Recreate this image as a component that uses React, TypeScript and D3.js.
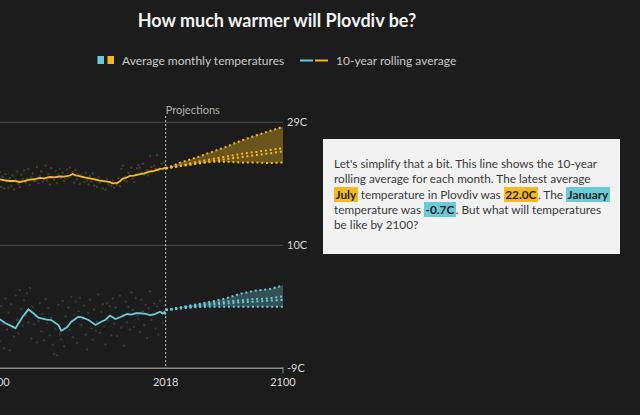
import React from 'react';
import * as d3 from 'd3';

// 10-year rolling averages
const julyYears = [1898, 1902, 1905, 1909, 1912, 1916, 1919, 1923, 1926, 1930, 1933, 1937, 1940, 1944, 1947, 1951, 1953, 1955, 1957, 1959, 1962, 1965, 1969, 1972, 1976, 1979, 1981, 1984, 1986, 1988, 1990, 1993, 1996, 2000, 2003, 2007, 2010, 2014, 2016, 2018];
const julyRolling = [20.3, 20.2, 20.05, 19.93, 19.95, 19.78, 19.9, 20.16, 20.2, 20.4, 20.35, 20.55, 20.5, 20.63, 20.6, 20.78, 21.01, 20.8, 20.71, 20.6, 20.47, 20.35, 20.16, 20.0, 19.86, 19.75, 19.58, 19.62, 19.9, 20.32, 20.4, 20.71, 20.75, 21.01, 21.1, 21.4, 21.5, 21.79, 21.85, 22.0];

const janYears = [1898, 1902, 1906, 1911, 1913, 1918, 1922, 1925, 1929, 1934, 1938, 1943, 1945, 1949, 1952, 1957, 1960, 1964, 1969, 1973, 1976, 1979, 1983, 1986, 1991, 1994, 1997, 2000, 2004, 2007, 2010, 2014, 2016, 2017, 2018];
const janRolling = [-1.1, -1.43, -2.05, -2.57, -2.82, -1.03, 0.11, -0.41, -1.18, -1.43, -1.54, -2.31, -3.19, -2.67, -1.8, -1.03, -1.18, -1.54, -2.31, -1.8, -1.5, -0.87, -1.38, -1.12, -0.61, -0.7, -0.5, -0.5, -0.6, -0.77, -0.66, -0.26, -0.55, -0.3, -0.7];

// Projections 2018-2100
const projYears = [2018, 2030, 2040, 2050, 2060, 2070, 2080, 2090, 2100];
const julyHigh = [21.9, 22.9, 23.6, 24.4, 25.2, 26.1, 26.9, 27.6, 28.3];
const julyMid1 = [21.9, 22.4, 22.9, 23.3, 23.7, 24.1, 24.4, 24.7, 25.0];
const julyMid2 = [21.9, 22.3, 22.7, 23.0, 23.3, 23.6, 23.9, 24.2, 24.5];
const julyLow = [21.9, 22.3, 22.6, 22.9, 22.9, 22.8, 22.8, 22.7, 22.8];
const janHigh = [0.0, 0.5, 0.9, 1.3, 1.8, 2.5, 3.0, 3.2, 3.8];
const janMid1 = [0.0, 0.4, 0.7, 1.0, 1.3, 1.5, 1.7, 1.8, 2.1];
const janMid2 = [0.0, 0.35, 0.6, 0.85, 1.0, 1.2, 1.3, 1.45, 1.55];
const janLow = [0.0, 0.3, 0.45, 0.52, 0.5, 0.5, 0.5, 0.5, 0.5];

// Average monthly temperatures, 1900-2018
const monthlyStartYear = 1900;
const julyMonthly = [
  20.9, 19.4, 21.3, 19.0, 20.6, 18.8, 21.0, 19.9, 18.9, 20.4,
  19.2, 20.8, 18.6, 20.1, 21.4, 19.5, 19.0, 20.9, 20.2, 21.6,
  19.7, 20.3, 21.8, 19.3, 20.5, 21.1, 19.9, 20.0, 22.1, 19.6,
  20.7, 21.4, 19.8, 20.2, 22.3, 20.0, 21.0, 19.4, 21.9, 20.6,
  20.1, 21.5, 19.6, 20.9, 21.8, 20.4, 21.2, 19.9, 20.3, 21.7,
  20.5, 22.0, 20.8, 21.3, 19.7, 21.6, 20.2, 21.0, 19.5, 20.9,
  20.6, 19.8, 21.2, 20.0, 19.4, 20.7, 19.9, 21.1, 19.2, 20.3,
  19.0, 20.5, 19.7, 20.1, 18.8, 19.9, 18.6, 20.3, 19.4, 19.8,
  19.2, 20.0, 18.9, 19.6, 19.3, 20.4, 19.1, 21.8, 22.3, 20.0,
  20.6, 19.9, 21.2, 20.8, 22.0, 20.3, 19.8, 21.0, 21.9, 22.4,
  22.0, 21.2, 22.6, 20.9, 21.1, 21.6, 20.8, 23.8, 22.1, 21.4,
  22.3, 21.8, 23.9, 21.5, 21.9, 22.6, 21.7, 22.8, 22.3,
];
const janMonthly = [
  -3.5, 1.2, -4.8, 0.6, -2.1, -5.9, 1.8, -3.0, -0.4, -6.2,
  0.9, -2.7, -4.1, 2.3, -1.5, -3.6, 3.1, 0.2, -2.4, 1.5,
  -0.8, 2.6, -1.9, 3.4, -4.4, 0.5, -2.2, -0.9, -5.0, -1.7,
  1.1, -3.3, -0.6, -4.7, 1.7, -2.0, 0.3, -3.9, -1.2, -5.4,
  -6.8, -2.9, -7.0, 0.8, -3.7, -4.5, 1.4, -5.6, -1.0, -2.6,
  0.4, -3.1, 2.0, -4.2, -0.7, 1.3, -5.1, -0.2, 1.9, -2.3,
  -1.4, 0.7, -3.8, -6.1, -0.5, 1.6, -2.8, -4.6, 0.1, -3.2,
  -1.8, 2.4, -3.5, -0.3, 0.9, -2.5, -5.3, 1.0, -1.6, 0.6,
  -3.9, 1.8, -2.1, 0.4, -4.0, -1.1, 2.2, -2.7, -0.8, -5.5,
  1.3, -1.9, 0.5, -3.0, 2.7, 0.0, -2.6, 1.9, -0.9, -1.4,
  -3.4, 1.6, -0.2, -2.3, 0.8, -4.3, 0.3, 2.9, -1.5, -0.6,
  1.0, -2.9, 0.6, -3.8, 1.4, -0.4, -2.0, 0.7, -1.3,
];

const yTicks = [29, 10, -9];
const xTickLabels = [1900, 2018, 2100];
const projectionStart = 2018;

const YELLOW = '#f4b91f';
const BLUE = '#6ccad6';
const BG = '#1c1c1c';
const FONT = 'Lato, "Open Sans", sans-serif';

export default function App() {
  const x = d3.scaleLinear().domain([1900, 2100]).range([-3.1, 283]);
  const y = d3.scaleLinear().domain([-9, 29]).range([368.3, 122.3]);

  const line = d3
    .line<[number, number]>()
    .x((d) => x(d[0]))
    .y((d) => y(d[1]));
  const area = d3
    .area<[number, number, number]>()
    .x((d) => x(d[0]))
    .y0((d) => y(d[1]))
    .y1((d) => y(d[2]));

  const zip = (xs: number[], ys: number[]) => xs.map((v, i) => [v, ys[i]] as [number, number]);

  const fans = [
    { color: YELLOW, fill: 'rgba(244,185,31,0.36)', high: julyHigh, mids: [julyMid1, julyMid2], low: julyLow },
    { color: BLUE, fill: 'rgba(108,202,214,0.30)', high: janHigh, mids: [janMid1, janMid2], low: janLow },
  ];

  const gridTicks = yTicks.filter((t) => t !== -9);
  const hl = (c: string) => ({ background: c, padding: '0 1.5px', color: '#222' });

  return (
    <svg
      width={640}
      height={415}
      style={{ position: 'fixed', left: 0, top: 0, background: BG, fontFamily: FONT }}
    >
      <rect x={0} y={0} width={640} height={415} fill={BG} />
      <text x={277} y={27} textAnchor="middle" fill="#f2f2f2" fontSize={18} fontWeight={700}>
        How much warmer will Plovdiv be?
      </text>

      {/* legend */}
      <rect x={97.5} y={56} width={6.5} height={8} fill={BLUE} />
      <rect x={107.5} y={56} width={6.5} height={8} fill={YELLOW} />
      <text x={122} y={64.5} fill="#c9c9c9" fontSize={12}>Average monthly temperatures</text>
      <line x1={300} x2={313} y1={60.5} y2={60.5} stroke={BLUE} strokeWidth={2} />
      <line x1={315} x2={328} y1={60.5} y2={60.5} stroke={YELLOW} strokeWidth={2} />
      <text x={336} y={64.5} fill="#c9c9c9" fontSize={12}>10-year rolling average</text>

      {/* gridlines */}
      {gridTicks.map((t) => (
        <line key={t} x1={0} x2={x(2100)} y1={y(t)} y2={y(t)} stroke="#4b4b4b" strokeWidth={1} />
      ))}
      {yTicks.map((t) => (
        <text key={t} x={x(2100) + 4} y={y(t) + 4} fill="#d6d6d6" fontSize={11}>
          {t}C
        </text>
      ))}

      {/* scatter */}
      {julyMonthly.map((v, i) => (
        <circle key={'j' + i} cx={x(monthlyStartYear + i)} cy={y(v)} r={1.2} fill="#7d7045" opacity={0.4} />
      ))}
      {janMonthly.map((v, i) => (
        <circle key={'n' + i} cx={x(monthlyStartYear + i)} cy={y(v)} r={1.2} fill="#5c6a6c" opacity={0.4} />
      ))}

      {/* projection fans */}
      {fans.map((f, k) => (
        <g key={k}>
          <path d={area(projYears.map((yr, i) => [yr, f.low[i], f.high[i]] as [number, number, number])) || ''} fill={f.fill} />
          {[f.high, ...f.mids, f.low].map((s, j) => (
            <path
              key={j}
              d={line(zip(projYears, s)) || ''}
              fill="none"
              stroke={f.color}
              strokeWidth={2}
              strokeDasharray="2 2.8"
            />
          ))}
        </g>
      ))}

      {/* rolling average lines */}
      <path d={line(zip(julyYears, julyRolling)) || ''} fill="none" stroke={YELLOW} strokeWidth={1.8} />
      <path d={line(zip(janYears, janRolling)) || ''} fill="none" stroke={BLUE} strokeWidth={1.8} />

      {/* projections marker */}
      <line
        x1={x(projectionStart)}
        x2={x(projectionStart)}
        y1={116}
        y2={y(-9)}
        stroke="#bdbdbd"
        strokeWidth={1}
        strokeDasharray="2 2"
      />
      <text x={x(projectionStart)} y={114} fill="#b0b0b0" fontSize={11}>Projections</text>

      {/* x axis */}
      <line x1={0} x2={x(2100)} y1={y(-9)} y2={y(-9)} stroke="#8c8c8c" strokeWidth={1.5} />
      <line x1={x(2100)} x2={x(2100)} y1={y(-9) - 1} y2={y(-9) + 5} stroke="#8c8c8c" strokeWidth={1} />
      {xTickLabels.map((t) => (
        <text key={t} x={x(t)} y={386} textAnchor="middle" fill="#dcdcdc" fontSize={11}>
          {t}
        </text>
      ))}

      {/* annotation box */}
      <foreignObject x={323} y={139} width={297} height={115}>
        <div
          style={{
            width: '100%',
            height: '100%',
            boxSizing: 'border-box',
            background: '#f2f2f2',
            color: '#3a3a3a',
            fontFamily: FONT,
            fontSize: 11.8,
            lineHeight: '15.3px',
            padding: '17px 6px 0 11px',
            whiteSpace: 'nowrap',
            overflow: 'hidden',
          }}
        >
          Let's simplify that a bit. This line shows the 10-year
          <br />
          rolling average for each month. The latest average
          <br />
          <b style={hl(YELLOW)}>July</b> temperature in Plovdiv was <b style={hl(YELLOW)}>22.0C</b>. The{' '}
          <b style={hl(BLUE)}>January</b>
          <br />
          temperature was <b style={hl(BLUE)}>-0.7C</b>. But what will temperatures
          <br />
          be like by 2100?
        </div>
      </foreignObject>
    </svg>
  );
}
